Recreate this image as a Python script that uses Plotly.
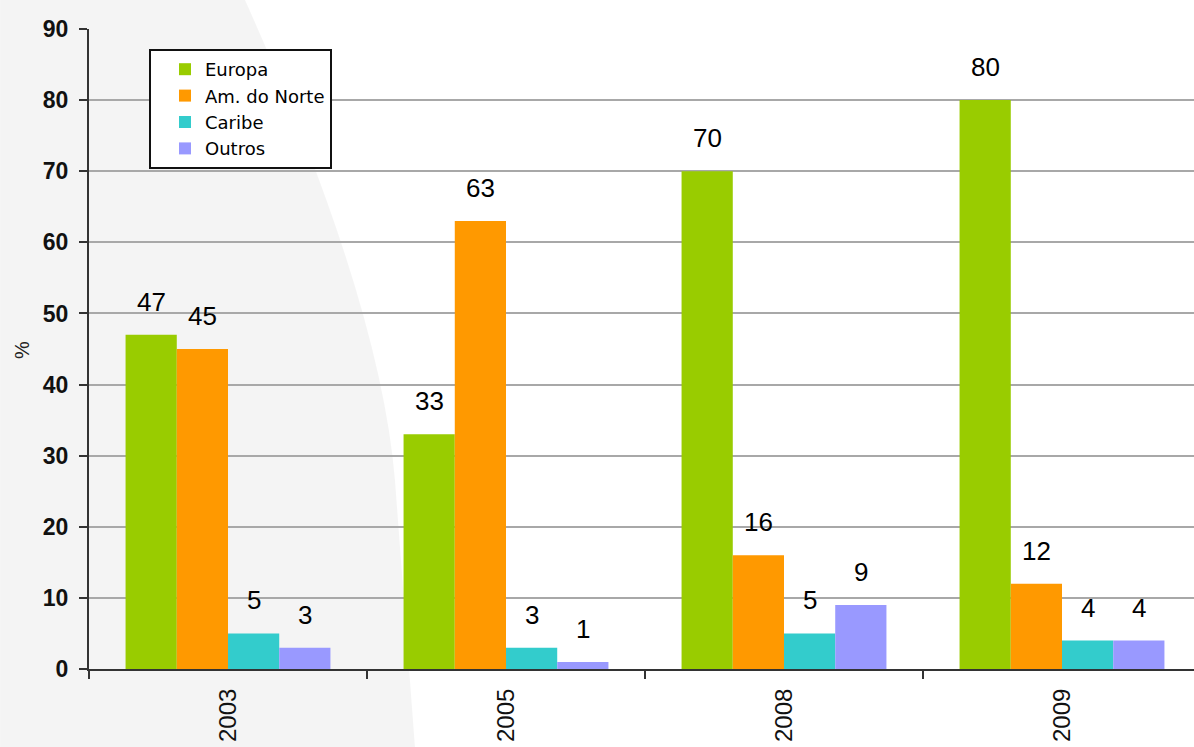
import plotly.graph_objects as go

# ---- data ----
categories = ["2003", "2005", "2008", "2009"]
series_names = ["Europa", "Am. do Norte", "Caribe", "Outros"]
europa = [47, 33, 70, 80]
am_norte = [45, 63, 16, 12]
caribe = [5, 3, 5, 4]
outros = [3, 1, 9, 4]
y_ticks = [0, 10, 20, 30, 40, 50, 60, 70, 80, 90]
y_title = "%"

colors = ["#99CC00", "#FF9900", "#33CCCC", "#9999FF"]
series_values = [europa, am_norte, caribe, outros]

W, H = 1194, 747
ML, MR, MT, MB = 89, 0, 29, 78
BARGAP = 0.263
FONT = "Liberation Sans, Arial, sans-serif"

fig = go.Figure()
for name, vals, col in zip(series_names, series_values, colors):
    fig.add_trace(go.Bar(name=name, x=categories, y=vals, marker=dict(color=col, line=dict(width=0))))

# value labels above bars
n = len(series_names)
bw = (1 - BARGAP) / n
annotations = []
for j, vals in enumerate(series_values):
    for i, v in enumerate(vals):
        annotations.append(dict(
            x=i + (j - (n - 1) / 2) * bw, y=v, xref="x", yref="y",
            text=str(v), showarrow=False, yanchor="bottom", yshift=16,
            font=dict(family=FONT, size=26, color="#000000"),
        ))

pw = W - ML - MR
ph = H - MT - MB

# y-axis title as rotated text
annotations.append(dict(
    x=-(ML - 22) / pw, y=(H - MB - 350) / ph, xref="paper", yref="paper",
    text=y_title, showarrow=False, textangle=-90, xanchor="center", yanchor="middle",
    font=dict(family=FONT, size=20, color="#222222"),
))

# decorative background swoosh (paper coords)
def px(x, y):
    return f"{(x - ML) / pw:.4f},{(H - MB - y) / ph:.4f}"

swoosh = ("M " + px(0, 0) + " L " + px(245, 0) + " Q " + px(380, 300) + " " + px(395, 480)
          + " L " + px(415, 747) + " L " + px(0, 747) + " Z")
shapes = [
    dict(type="path", path=swoosh, xref="paper", yref="paper", fillcolor="rgba(0,0,0,0.045)",
         line=dict(width=0), layer="below"),
]

fig.update_layout(
    width=W, height=H,
    margin=dict(l=ML, r=MR, t=MT, b=MB, pad=0),
    paper_bgcolor="white", plot_bgcolor="rgba(0,0,0,0)",
    barmode="group", bargap=BARGAP, bargroupgap=0,
    font=dict(family=FONT, color="#111111"),
    showlegend=True,
    legend=dict(
        x=(149 - ML) / pw, y=(H - MB - 49) / ph, xanchor="left", yanchor="top",
        bgcolor="white", bordercolor="#111111", borderwidth=2,
        font=dict(family="DejaVu Sans, sans-serif", size=18, color="#000000"),
        indentation=14, tracegroupgap=0,
    ),
    annotations=annotations,
    shapes=shapes,
)

fig.update_xaxes(
    type="category", range=[-0.5, -0.5 + pw / 278.0], automargin=False,
    showline=True, linecolor="#333333", linewidth=2,
    ticks="outside", tickson="boundaries", ticklen=8, tickwidth=2, tickcolor="#333333",
    tickangle=-90, tickfont=dict(family=FONT, size=24, color="#111111"),
    ticklabelstandoff=8, showgrid=False, zeroline=False,
)
fig.update_yaxes(
    range=[0, 90], tickvals=y_ticks, automargin=False,
    showline=True, linecolor="#333333", linewidth=2,
    ticks="outside", ticklen=8, tickwidth=2, tickcolor="#333333",
    tickfont=dict(family=FONT, size=23, color="#111111", weight="bold"),
    ticklabelstandoff=6,
    showgrid=True, gridcolor="#a8a8a8", gridwidth=2, zeroline=False,
)

fig.write_html("out.html")
